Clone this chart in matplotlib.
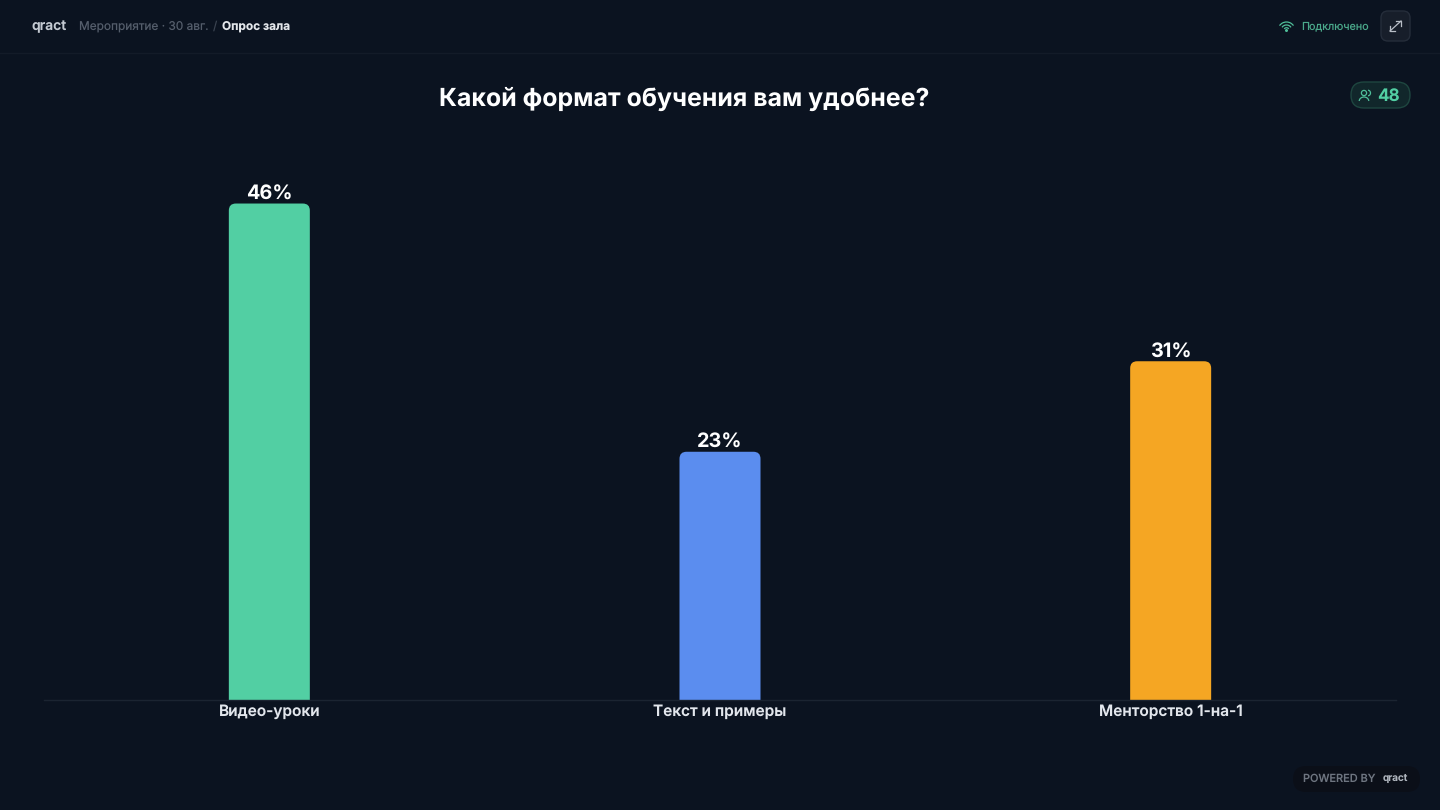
import matplotlib
matplotlib.use("Agg")
import matplotlib.pyplot as plt
from matplotlib.patches import FancyBboxPatch, Arc, Circle

plt.rcParams["font.family"] = ["Inter", "DejaVu Sans"]
plt.rcParams["text.hinting"] = "none"

categories = ["Видео-уроки", "Текст и примеры", "Менторство 1-на-1"]
values = [45.8, 22.9, 31.25]
colors = ["#52CFA3", "#5B8DEF", "#F5A623"]
title = "Какой формат обучения вам удобнее?"
respondents = "48"

BG = "#0B1320"
W, H = 1440, 810

fig = plt.figure(figsize=(W / 100, H / 100), dpi=100, facecolor=BG)

# слой для шапки и прочих элементов, координаты в пикселях
ui = fig.add_axes([0, 0, 1, 1], facecolor=BG)
ui.set_xlim(0, W)
ui.set_ylim(H, 0)
ui.axis("off")

# основная диаграмма
ax = fig.add_axes([44 / W, (H - 700) / H, 1352 / W, 560 / H], facecolor="none")
ax.set_xlim(-0.5, 2.5)
ax.set_ylim(0, 560 / 10.84)
bar_w = 81 / (1352 / 3)
aspect = 10.84 / (1352 / 3)  # px по y / px по x
r = 7 / (1352 / 3)
for i, (v, c) in enumerate(zip(values, colors)):
    ax.add_patch(FancyBboxPatch(
        (i - bar_w / 2, -3), bar_w, v + 3,
        boxstyle=f"round,pad=0,rounding_size={r}",
        mutation_aspect=(1 / aspect),
        facecolor=c, edgecolor="none",
    ))
    ax.text(i, v + 0.08, f"{v:.0f}%", ha="center", va="bottom",
            color="#FFFFFF", fontsize=14.3, fontweight="bold")
ax.set_xticks(range(len(categories)), categories)
ax.tick_params(axis="x", length=0, pad=3, labelsize=11.1, labelcolor="#E2E6EC")
for lab in ax.get_xticklabels():
    lab.set_fontweight("semibold")
ax.set_yticks([])
for s in ["top", "left", "right"]:
    ax.spines[s].set_visible(False)
ax.spines["bottom"].set_color("#1B2431")
ax.spines["bottom"].set_linewidth(1)

# шапка
ui.plot([0, W], [52.5, 52.5], color="#131B28", lw=1)
ui.text(31, 26.5, "qract", color="#C4CAD2", fontsize=10, fontweight="semibold", va="center")
ui.text(79, 26.5, "Мероприятие · 30 авг.", color="#545D6B", fontsize=8.55, va="center")
ui.text(213, 26.5, "/", color="#3A4350", fontsize=8.55, va="center")
ui.text(222, 26.5, "Опрос зала", color="#E4E7EB", fontsize=8.55, fontweight="bold", va="center")

# значок wifi
for d in [17, 11, 5.5]:
    ui.add_patch(Arc((1286.5, 30.5), d, d, theta1=215, theta2=325, color="#4FBF9A", lw=0.9))
ui.add_patch(Circle((1286.5, 30.5), 0.8, color="#4FBF9A"))
ui.text(1301, 26.5, "Подключено", color="#4AA88A", fontsize=7.75, va="center")

# кнопка на весь экран
ui.add_patch(FancyBboxPatch((1381, 11), 29, 30, boxstyle="round,pad=0,rounding_size=7",
                            facecolor="#171E2A", edgecolor="#252D3A", lw=1))
arrow_style = dict(color="#B8BEC7", lw=0.9)
ui.plot([1390, 1401], [31, 21], **arrow_style)
ui.plot([1396, 1401, 1401], [21, 21, 26], **arrow_style)
ui.plot([1390, 1390, 1395], [26, 31, 31], **arrow_style)

# заголовок
ui.text(684, 99, title, color="#FFFFFF", fontsize=17.95, fontweight="bold", ha="center", va="center")

# счётчик участников
ui.add_patch(FancyBboxPatch((1351, 82), 59, 26, boxstyle="round,pad=0,rounding_size=13",
                            facecolor="#11272B", edgecolor="#1E4640", lw=1))
ui.add_patch(Circle((1364, 93), 2.6, facecolor="none", edgecolor="#4FBF9A", lw=0.9))
ui.add_patch(Arc((1364, 101), 9.5, 8, theta1=180, theta2=360, color="#4FBF9A", lw=0.9))
ui.add_patch(Arc((1368, 93), 5, 5.5, theta1=270, theta2=90, color="#4FBF9A", lw=0.9))
ui.text(1377, 96.5, respondents, color="#52CFA3", fontsize=12.3, fontweight="bold", va="center")

# подпись внизу
ui.add_patch(FancyBboxPatch((1293, 766), 127, 26, boxstyle="round,pad=0,rounding_size=13",
                            facecolor="#0B0F18", edgecolor="none"))
ui.text(1303, 778.5, "POWERED BY", color="#6E7580", fontsize=7.9, va="center",
        fontweight="medium")
ui.text(1383, 778, "qract", color="#AEB4BC", fontsize=7.2, fontweight="semibold", va="center")

fig.savefig("out.png", dpi=100, facecolor=BG)
